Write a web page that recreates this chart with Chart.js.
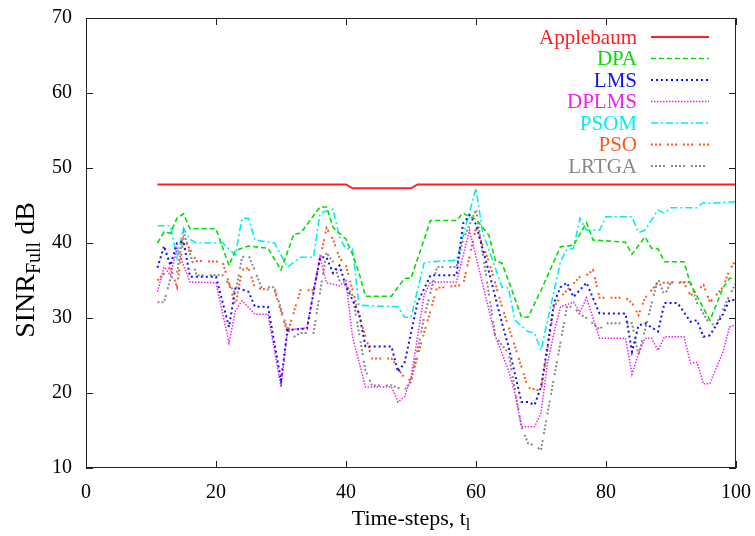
<!DOCTYPE html>
<html>
<head>
<meta charset="utf-8">
<script src="https://cdn.jsdelivr.net/npm/chart.js@4/dist/chart.umd.min.js"></script>
<style>
  body { margin: 0; background: #fff; }
  #wrap { width: 755px; height: 536px; position: relative; }
</style>
</head>
<body>
<div id="wrap"><canvas id="sinrChart"></canvas></div>
<script>
// axis ticks
const xTicks = [0, 20, 40, 60, 80, 100];
const yTicks = [10, 20, 30, 40, 50, 60, 70];

// series (time-step, SINR dB)
const appT = [11, 40, 41, 50, 51, 100];
const appV = [47.8, 47.8, 47.3, 47.3, 47.8, 47.8];

const dpaT = [11, 12, 13, 14, 15, 16, 20, 22, 23, 25, 28, 30, 32, 33, 36, 37, 38, 39, 40, 41, 42, 43, 47, 49, 50, 53, 57, 58, 59, 60, 62, 63, 64, 65, 67, 68, 70, 73, 75, 77, 78, 83, 84, 86, 87, 88, 89, 92, 93, 96, 98, 99, 100];
const dpaV = [40, 41.5, 41.3, 43.3, 43.9, 41.9, 41.9, 37, 39, 39.6, 39.3, 36.4, 41.2, 41.3, 44.8, 44.8, 42.1, 41.3, 40.5, 38.5, 36, 32.9, 32.9, 35.3, 35.3, 43, 43, 44, 43.5, 43.2, 41, 37.6, 37.3, 35, 30.1, 30.1, 33.7, 39.5, 39.7, 42.7, 40.4, 40.1, 38.5, 40.8, 39.3, 39.2, 37.5, 37.5, 34.5, 29.7, 34, 35.3, 35.3];

const lmsT = [11, 12, 13, 14, 15, 16, 20, 22, 23, 25, 26, 28, 30, 31, 34, 36, 37, 38, 39, 40, 42, 43, 47, 48, 49, 51, 53, 57, 58, 59, 60, 62, 64, 65, 67, 68, 69, 70, 71, 72, 73, 74, 75, 77, 79, 83, 84, 85, 86, 88, 89, 91, 93, 94, 95, 96, 98, 99, 100];
const lmsV = [36.7, 39.6, 37, 40, 40.2, 35.5, 35.5, 28.8, 34.1, 33.5, 31.5, 31.5, 21.7, 28.4, 28.6, 38.1, 38.1, 36, 37, 34.2, 30.6, 26.2, 26.2, 22.8, 24, 32, 35.7, 35.7, 42.6, 43.7, 42.5, 36.1, 29.3, 26.2, 18.8, 18.8, 18.4, 20.8, 26.2, 32, 34.1, 34.7, 32.8, 34.7, 30.6, 30.6, 25.5, 29, 29.3, 28.2, 32, 32, 29.5, 29.7, 27.5, 27.7, 30.5, 32.4, 32.4];

const dplmsT = [11, 12, 13, 14, 16, 20, 22, 23, 24, 26, 28, 30, 31, 34, 36, 37, 39, 40, 41, 43, 47, 48, 49, 50, 52, 53, 57, 59, 63, 64, 65, 66, 67, 69, 70, 71, 72, 73, 75, 76, 77, 79, 83, 84, 85, 86, 87, 88, 89, 92, 93, 94, 95, 96, 98, 99, 100];
const dplmsV = [33.5, 36.8, 35.7, 39.3, 34.8, 34.7, 26.7, 31, 32.3, 30.5, 30.5, 20.8, 28.4, 28.7, 38.1, 34.7, 34.3, 35, 27.5, 20.8, 20.8, 18.8, 19.5, 22, 33, 34.8, 34.8, 41.7, 27.5, 25.3, 23, 20, 15.5, 15.5, 17.3, 24, 28, 31.5, 32.1, 30.8, 32.7, 27.3, 27.3, 22.5, 25.3, 27.3, 27.3, 25.7, 27.5, 27.5, 24, 24.1, 21.2, 21.3, 25.5, 28.8, 29.1];

const psomT = [11, 13, 14, 15, 16, 17, 21, 23, 24, 25, 26, 29, 31, 33, 35, 36, 38, 39, 40, 41, 42, 48, 49, 50, 52, 53, 57, 60, 61, 64, 65, 66, 68, 69, 70, 73, 74, 75, 76, 77, 79, 80, 84, 85, 86, 88, 89, 90, 94, 95, 96, 100];
const psomV = [42.3, 42.3, 38, 42, 40.5, 40, 40, 38.4, 43.3, 43.3, 40.4, 40, 36.8, 38.1, 38.1, 44, 44.5, 40.8, 39.2, 39.2, 31.7, 31.5, 30.1, 30.1, 37.3, 37.5, 37.7, 47.3, 41.5, 34.1, 34, 29.7, 28.2, 28, 25.7, 37.5, 39.2, 39.3, 43.3, 41.7, 41.7, 43.5, 43.5, 41.4, 41.7, 44.4, 44, 44.7, 44.7, 45.4, 45.3, 45.5];

const psoT = [11, 13, 14, 15, 17, 21, 23, 24, 25, 26, 29, 31, 33, 35, 37, 38, 39, 40, 42, 44, 47, 49, 50, 52, 54, 58, 60, 62, 64, 66, 68, 70, 72, 73, 76, 77, 78, 79, 83, 84, 85, 86, 88, 92, 93, 95, 96, 98, 99, 100];
const psoV = [35, 36.8, 34.1, 40.7, 37.6, 37.5, 31.7, 36.4, 36.7, 34, 33.7, 28, 33.7, 33.7, 42, 40.5, 38, 37, 30.5, 24.6, 24.6, 22, 21.7, 28, 34, 34.4, 42, 37.5, 31.5, 26.2, 20.7, 20.3, 31.5, 32.8, 35.5, 35.7, 36.4, 32.7, 32.7, 32, 30.4, 32.7, 34.7, 34.7, 33, 34.4, 32.1, 34.1, 36.4, 37.7];

const lrtgaT = [11, 12, 13, 14, 15, 17, 21, 23, 24, 25, 27, 29, 31, 32, 33, 35, 37, 38, 39, 40, 41, 43, 44, 47, 49, 50, 52, 54, 57, 58, 60, 63, 65, 67, 68, 69, 70, 71, 74, 75, 76, 77, 79, 80, 84, 85, 88, 89, 90, 93, 94, 96, 97, 99, 100];
const lrtgaV = [32.1, 32.1, 35.3, 36, 41.5, 35.7, 35.7, 33.3, 38.1, 38.4, 34.1, 34.1, 28.4, 27.5, 28, 28, 38.7, 37.5, 35, 34.5, 33, 23, 21, 21, 20.4, 21.5, 30, 36.8, 36.8, 40.4, 44.4, 27.5, 25.3, 15.5, 13.3, 13, 12.4, 17.3, 31.5, 31.5, 30.5, 30, 28.5, 29.3, 29.3, 25, 35.3, 33, 34.8, 34.8, 32, 29.1, 29.2, 33, 34.7];

const serif = "'Liberation Serif', 'DejaVu Serif', serif";

function pts(t, v) {
  return t.map((x, i) => ({ x: x, y: v[i] }));
}

function series(label, t, v, color, width, dash) {
  return {
    label: label,
    data: pts(t, v),
    borderColor: color,
    backgroundColor: color,
    borderWidth: width,
    borderDash: dash,
    pointRadius: 0,
    tension: 0,
    fill: false
  };
}

const datasets = [
  series("Applebaum", appT, appV, "#ff2020", 2, []),
  series("DPA", dpaT, dpaV, "#00e000", 1.6, [5, 3]),
  series("LMS", lmsT, lmsV, "#1010ff", 2, [2, 3]),
  series("DPLMS", dplmsT, dplmsV, "#f020f0", 1.5, [1.5, 1.5]),
  series("PSOM", psomT, psomV, "#00f0f0", 1.6, [7, 3, 2, 3]),
  series("PSO", psoT, psoV, "#ff5a1e", 2, [2, 2, 2, 2, 2, 6]),
  series("LRTGA", lrtgaT, lrtgaV, "#888888", 2, [2, 2, 2, 2, 2, 2, 2, 6])
];

// frame, mirrored inward ticks, tick labels, key and axis titles (gnuplot look)
const gnuFrame = {
  id: "gnuFrame",
  afterDraw(chart) {
    const { ctx, chartArea: a, scales } = chart;
    const xs = scales.x, ys = scales.y;
    ctx.save();
    ctx.strokeStyle = "#222";
    ctx.lineWidth = 1;
    ctx.setLineDash([]);
    ctx.strokeRect(a.left + 0.5, a.top + 0.5, a.right - a.left - 1, a.bottom - a.top - 1);
    ctx.beginPath();
    xTicks.forEach(v => {
      const p = Math.round(xs.getPixelForValue(v)) + 0.5;
      ctx.moveTo(p, a.bottom); ctx.lineTo(p, a.bottom - 7);
      ctx.moveTo(p, a.top); ctx.lineTo(p, a.top + 7);
    });
    yTicks.forEach(v => {
      const p = Math.round(ys.getPixelForValue(v)) + 0.5;
      ctx.moveTo(a.left, p); ctx.lineTo(a.left + 7, p);
      ctx.moveTo(a.right, p); ctx.lineTo(a.right - 7, p);
    });
    ctx.stroke();

    // tick labels
    ctx.fillStyle = "#000";
    ctx.font = "20px " + serif;
    ctx.textBaseline = "middle";
    ctx.textAlign = "center";
    xTicks.forEach(v => ctx.fillText(String(v), xs.getPixelForValue(v), 493));
    ctx.textAlign = "right";
    yTicks.forEach(v => ctx.fillText(String(v), 72, ys.getPixelForValue(v)));

    // key
    ctx.font = "21px " + serif;
    ctx.textAlign = "right";
    ctx.textBaseline = "middle";
    chart.data.datasets.forEach((ds, i) => {
      const yy = 37 + i * 21.5;
      ctx.fillStyle = ds.borderColor;
      ctx.fillText(ds.label, 637, yy + 1);
      ctx.strokeStyle = ds.borderColor;
      ctx.lineWidth = ds.borderWidth;
      ctx.setLineDash(ds.borderDash);
      ctx.beginPath();
      ctx.moveTo(651, yy);
      ctx.lineTo(709, yy);
      ctx.stroke();
    });
    ctx.setLineDash([]);

    // x title
    ctx.fillStyle = "#000";
    ctx.textAlign = "left";
    ctx.textBaseline = "alphabetic";
    const big = "22px " + serif, small = "16px " + serif;
    ctx.font = big;
    const xMain = "Time-steps, t";
    const w1 = ctx.measureText(xMain).width;
    ctx.font = small;
    const w2 = ctx.measureText("l").width;
    let sx = (a.left + a.right) / 2 - (w1 + w2) / 2;
    ctx.font = big;
    ctx.fillText(xMain, sx, 525);
    ctx.font = small;
    ctx.fillText("l", sx + w1, 530);

    // y title
    ctx.translate(34, 270);
    ctx.rotate(-Math.PI / 2);
    const bigY = "28px " + serif, smallY = "20px " + serif;
    ctx.font = bigY;
    const a1 = ctx.measureText("SINR").width;
    const a3 = ctx.measureText(" dB").width;
    ctx.font = smallY;
    const a2 = ctx.measureText("Full").width;
    let sy = -(a1 + a2 + a3) / 2;
    ctx.font = bigY;
    ctx.fillText("SINR", sy, 0);
    ctx.font = smallY;
    ctx.fillText("Full", sy + a1, 6);
    ctx.font = bigY;
    ctx.fillText(" dB", sy + a1 + a2, 0);
    ctx.restore();
  }
};

new Chart(document.getElementById("sinrChart"), {
  type: "line",
  data: { datasets: datasets },
  options: {
    responsive: true,
    maintainAspectRatio: false,
    animation: false,
    events: [],
    layout: { padding: { top: 18, right: 19, left: 0, bottom: 0 } },
    plugins: { legend: { display: false }, tooltip: { enabled: false } },
    scales: {
      x: {
        type: "linear",
        min: 0,
        max: 100,
        afterFit(s) { s.height = 68; },
        afterBuildTicks(s) { s.ticks = xTicks.map(v => ({ value: v })); },
        grid: { display: false },
        border: { display: false },
        ticks: { display: false }
      },
      y: {
        min: 10,
        max: 70,
        afterFit(s) { s.width = 86; },
        afterBuildTicks(s) { s.ticks = yTicks.map(v => ({ value: v })); },
        grid: { display: false },
        border: { display: false },
        ticks: { display: false }
      }
    }
  },
  plugins: [gnuFrame]
});
</script>
</body>
</html>
